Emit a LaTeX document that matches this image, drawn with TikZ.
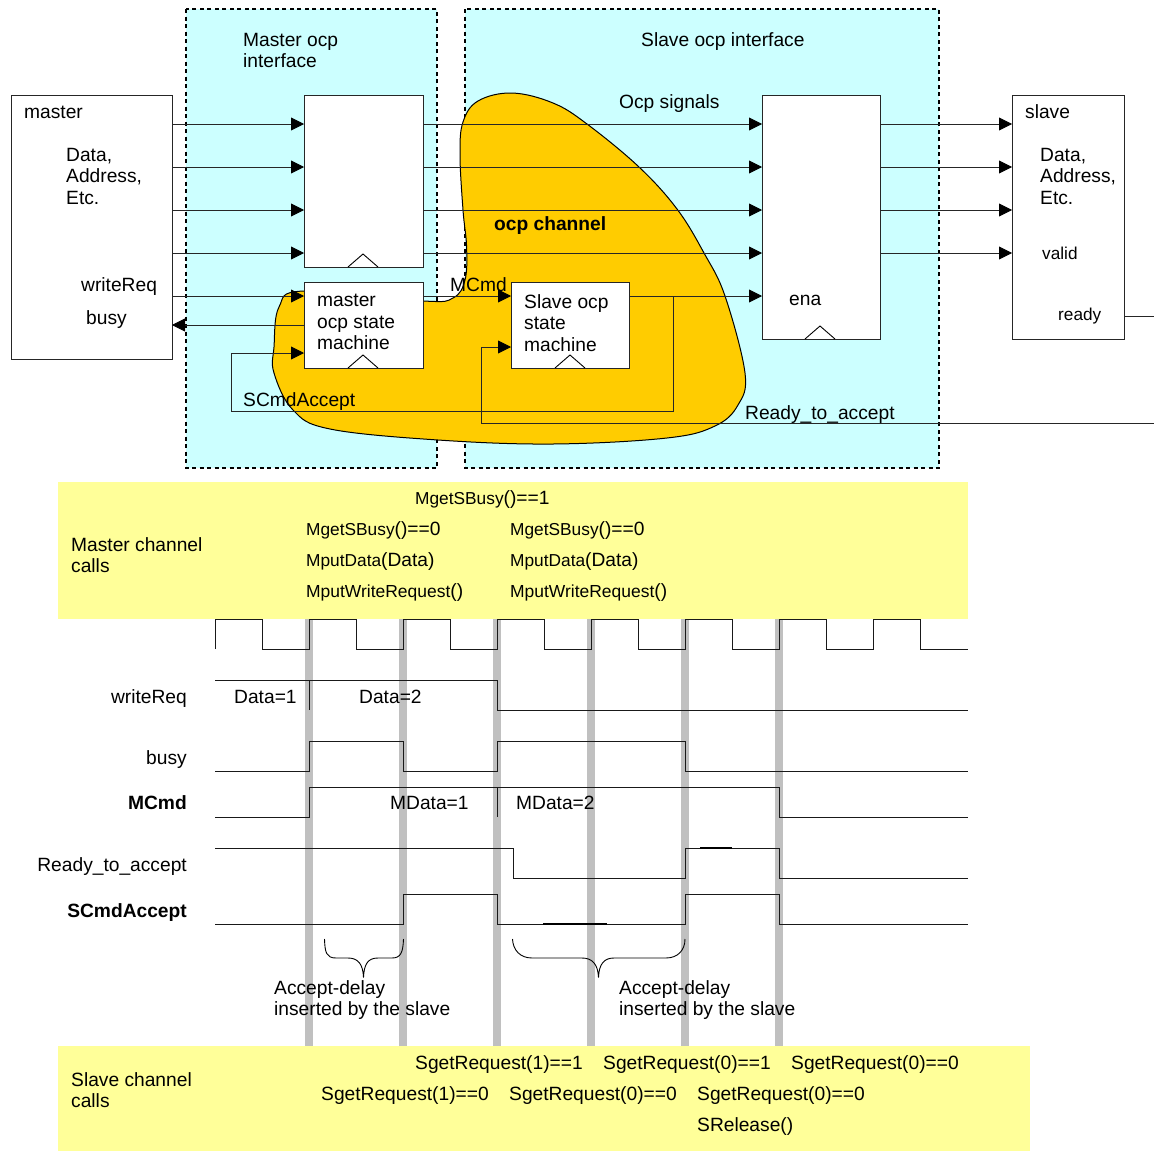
\documentclass[tikz,border=0pt]{standalone}
\usepackage{fontspec}
\setmainfont{Liberation Sans}
\usetikzlibrary{arrows.meta}
\definecolor{cy}{HTML}{CCFFFF}
\definecolor{yel}{HTML}{FFFF99}
\definecolor{org}{HTML}{FFCC00}
\definecolor{bar}{HTML}{C0C0C0}
\newcommand{\bigf}{\fontsize{19.2}{21.5}\selectfont}
\tikzset{
  wire/.style={line width=0.9pt,black!85},
  arr/.style={wire,-{Triangle[length=13pt,width=13pt,fill=black,color=black]}},
  box/.style={draw=black!85,line width=0.85pt,fill=white,anchor=north west,inner sep=0pt,outer sep=0pt},
  region/.style={fill=cy,draw=black,line width=1.5pt,dash pattern=on 4pt off 3.5pt},
  band/.style={fill=yel,draw=none},
  tx/.style={anchor=base west,inner sep=0pt,font=\bigf},
  txb/.style={tx,font=\bigf\bfseries},
  txr/.style={anchor=base east,inner sep=0pt,font=\bigf,xshift=1pt},
  txrb/.style={txr,font=\bigf\bfseries},
  txs/.style={tx,font=\fontsize{17.2}{20}\selectfont},
  ml/.style={anchor=north west,inner sep=0pt,align=left,font=\bigf},
  gbar/.style={fill=bar,draw=none},
  clk/.style={line width=0.85pt,black!90,line join=miter},
  tri/.style={line width=0.9pt,black},
  brace/.style={line width=0.9pt,black}
}
\newcommand{\sm}{\fontsize{17.3}{20}\selectfont}
\newcommand{\smw}{\fontsize{17.45}{20}\selectfont}
\begin{document}
\begin{tikzpicture}[x=1pt,y=-1pt]
\useasboundingbox[fill=white] (0,0) rectangle (1154,1151);
% regions
\path[region] (186,9) rectangle (437,468);
\path[region] (465,9) rectangle (939,468);
% channel blob
\fill[org,draw=black,line width=1pt] plot[smooth cycle,tension=0.62] coordinates {
 (512,93) (553,103) (587,124) (639,167) (677,209) (704,253) (725,296) (745,373) (738,405) (715,426) (667,438) (553,444) (438,440) (330,429) (293,410) (274,373) (274,347) (279,307) (304,291) (423,301) (453,298) (465,280) (466.6,247) (463,210) (460,155) (463,122) (478,101)};
% bands
\fill[band] (58,482) rectangle (968,619);
\fill[band] (58,1046) rectangle (1030,1151);
% boxes
\node[box,minimum width=161pt,minimum height=264pt] (mst) at (11,95) {};
\node[box,minimum width=112pt,minimum height=244pt] (slv) at (1012,95) {};
\node[box,minimum width=119pt,minimum height=172pt] (rega) at (304,95) {};
\node[box,minimum width=119pt,minimum height=86pt] (msm) at (304,282) {};
\node[box,minimum width=118pt,minimum height=86pt] (ssm) at (511,282) {};
\node[box,minimum width=118pt,minimum height=244pt] (regb) at (762,95) {};
% clock triangles
\draw[tri] (348,267)--(363,254)--(378,267);
\draw[tri] (348,368)--(363,355)--(378,368);
\draw[tri] (555,368)--(570,355)--(585,368);
\draw[tri] (805,339)--(820,326)--(835,339);
% connectors
\foreach \yy in {124,167,210,253}{
  \draw[arr] (mst.east |- 0,\yy) -- (rega.west |- 0,\yy);
  \draw[arr] (rega.east |- 0,\yy) -- (regb.west |- 0,\yy);
  \draw[arr] (regb.east |- 0,\yy) -- (slv.west |- 0,\yy);
}
\draw[arr] (mst.east |- 0,296) -- (msm.west |- 0,296);
\draw[arr] (msm.west |- 0,325) -- (mst.east |- 0,325);
\draw[arr] (msm.east |- 0,296) -- (ssm.west |- 0,296);
\draw[arr] (ssm.east |- 0,296) -- (regb.west |- 0,296);
\coordinate (tap) at (673,296);
\coordinate (rdyend) at (1155,423);
\coordinate (rdystub) at (1155,316);
\draw[arr] (tap) -- (673,411) -- (231,411) -- (231,353) -- (msm.west |- 0,353);
\draw[arr] (rdyend) -- (481,423) -- (481,347) -- (ssm.west |- 0,347);
\draw[wire] (slv.east |- 0,316) -- (rdystub);
% upper labels
\node[ml] (t1) at (243,33) {Master ocp\\interface};
\node[tx] (t2) at (641,46) {Slave ocp interface};
\node[tx] (t3) at (619,108) {Ocp signals};
\node[tx] (t4) at (24,118) {master};
\node[ml] (t5) at (66,148) {Data,\\Address,\\Etc.};
\node[tx] (t6) at (81,291) {writeReq};
\node[tx] (t7) at (86,324) {busy};
\node[txb] (t8) at (494,230) {ocp channel};
\node[ml] (t9) at (317,294) {master\\ocp state\\machine};
\node[tx] (t10) at (450,291) {MCmd};
\node[ml] (t11) at (524,294) {Slave ocp\\state\\machine};
\node[tx] (t12) at (243,406) {SCmdAccept};
\node[tx] (t13) at (789,305) {ena};
\node[tx] (t14) at (1025,118) {slave};
\node[ml] (t15) at (1040,148) {Data,\\Address,\\Etc.};
\node[txs] (t16) at (1042,259) {valid};
\node[txs] (t17) at (1058,320) {ready};
\node[tx] (t18) at (745,419) {Ready\_to\_accept};
% master band
\node[ml] (t19) at (71,537) {Master channel\\calls};
\node[tx] (t20) at (415,504) {{\sm MgetSBusy}()==1};
\node[tx] (t21) at (306,535) {{\sm MgetSBusy}()==0};
\node[tx] (t22) at (510,535) {{\sm MgetSBusy}()==0};
\node[tx] (t23) at (306,566) {{\sm MputData}(Data)};
\node[tx] (t24) at (510,566) {{\sm MputData}(Data)};
\node[tx] (t25) at (306,597) {{\smw MputWriteRequest}()};
\node[tx] (t26) at (510,597) {{\smw MputWriteRequest}()};
% gray bars
\foreach \xx in {309,403,497,591,685,779}{
  \fill[gbar] (\xx-4,619) rectangle (\xx+4,1046);
}
% waves
\draw[clk] (215,649)--(215,619)--(262,619)--(262,649)--(309,649)--(309,619)--(356,619)--(356,649)--(403,649)--(403,619)--(450,619)--(450,649)--(497,649)--(497,619)--(544,619)--(544,649)--(591,649)--(591,619)--(638,619)--(638,649)--(685,649)--(685,619)--(732,619)--(732,649)--(779,649)--(779,619)--(826,619)--(826,649)--(873,649)--(873,619)--(920,619)--(920,649)--(968,649);
\draw[clk] (215,680)--(497,680)--(497,710)--(968,710);
\draw[clk] (309,680)--(309,710);
\draw[clk] (215,771)--(309,771)--(309,741)--(403,741)--(403,771)--(497,771)--(497,741)--(685,741)--(685,771)--(968,771);
\draw[clk] (215,817)--(309,817)--(309,787)--(779,787)--(779,817)--(968,817);
\draw[clk] (497,787)--(497,817);
\draw[clk] (215,848)--(513,848)--(513,878)--(685,878)--(685,848)--(779,848)--(779,878)--(968,878);
\draw[clk] (215,924)--(403,924)--(403,894)--(497,894)--(497,924)--(685,924)--(685,894)--(779,894)--(779,924)--(968,924);
\draw[line width=1.5pt] (543,924)--(607,924);
\draw[line width=1.2pt] (700,848)--(732,848);
% braces
\draw[brace] (324.5,939) .. controls (325,952) and (326,958) .. (336,958) -- (348,958) .. controls (358,958) and (363,964) .. (363.5,977.5) .. controls (364,964) and (368,958) .. (378,958) -- (392,958) .. controls (401,958) and (403,952) .. (403.5,939);
\draw[brace] (512.5,939) .. controls (513,950) and (520,958) .. (532,958) -- (582,958) .. controls (592,958) and (598,964) .. (598.5,977.5) .. controls (599,964) and (604,958) .. (614,958) -- (666,958) .. controls (678,958) and (685,950) .. (685,939);
% wave labels
\node[txr] (w1) at (186,703) {writeReq};
\node[txr] (w2) at (186,764) {busy};
\node[txrb] (w3) at (186,809.5) {MCmd};
\node[txr] (w4) at (186,871) {Ready\_to\_accept};
\node[txrb] (w5) at (186,917) {SCmdAccept};
\node[tx] (d1) at (234,703) {Data=1};
\node[tx] (d2) at (359,703) {Data=2};
\node[tx] (d3) at (390,809.5) {MData=1};
\node[tx] (d4) at (516,809.5) {MData=2};
\node[ml] (a1) at (274,980) {Accept-delay\\inserted by the slave};
\node[ml] (a2) at (619,980) {Accept-delay\\inserted by the slave};
% slave band
\node[ml] (t30) at (71,1072) {Slave channel\\calls};
\node[tx] (s1) at (415,1069) {SgetRequest(1)==1};
\node[tx] (s2) at (603,1069) {SgetRequest(0)==1};
\node[tx] (s3) at (791,1069) {SgetRequest(0)==0};
\node[tx] (s4) at (321,1100) {SgetRequest(1)==0};
\node[tx] (s5) at (509,1100) {SgetRequest(0)==0};
\node[tx] (s6) at (697,1100) {SgetRequest(0)==0};
\node[tx] (s7) at (697,1131) {SRelease()};
\end{tikzpicture}
\end{document}
